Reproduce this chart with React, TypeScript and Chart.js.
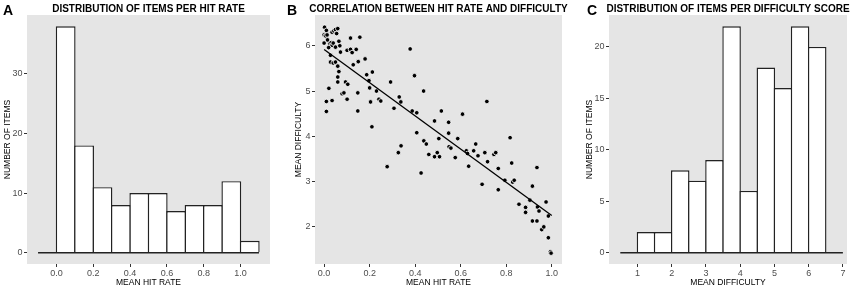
import React, { useEffect, useRef } from "react";
import { Chart, registerables } from "chart.js";

Chart.register(...registerables);

const FONT = '"Liberation Sans", Arial, Helvetica, sans-serif';

// ---------- Panel A: distribution of items per hit rate ----------
const hitRateBinStarts = [-0.1, 0.0, 0.1, 0.2, 0.3, 0.4, 0.5, 0.6, 0.7, 0.8, 0.9, 1.0];
const hitRateCounts = [0, 38, 18, 11, 8, 10, 10, 7, 8, 8, 12, 2];
const hitRateBinWidth = 0.1;
const hitRateTicks = [0, 0.2, 0.4, 0.6, 0.8, 1.0];
const hitRateCountTicks = [0, 10, 20, 30];

// ---------- Panel C: distribution of items per difficulty score ----------
const difficultyBinStarts = [0.5, 1.0, 1.5, 2.0, 2.5, 3.0, 3.5, 4.0, 4.5, 5.0, 5.5, 6.0, 6.5];
const difficultyCounts = [0, 2, 2, 8, 7, 9, 22, 6, 18, 16, 22, 20, 0];
const difficultyBinWidth = 0.5;
const difficultyTicks = [1, 2, 3, 4, 5, 6, 7];
const difficultyCountTicks = [0, 5, 10, 15, 20];

// ---------- Panel B: correlation between hit rate and difficulty ----------
const itemHitRate = [
  0.002, 0.010, 0.000, 0.006, 0.013, 0.035, 0.043, 0.050, 0.060, 0.000,
  0.025, 0.031, 0.035, 0.040, 0.065, 0.069, 0.116, 0.157, 0.072, 0.101,
  0.116, 0.123, 0.141, 0.028, 0.028, 0.040, 0.050, 0.060, 0.128, 0.150,
  0.180, 0.065, 0.060, 0.060, 0.094, 0.104, 0.187, 0.212, 0.197, 0.021,
  0.079, 0.087, 0.148, 0.010, 0.035, 0.101, 0.204, 0.241, 0.249, 0.292,
  0.307, 0.330, 0.337, 0.378, 0.148, 0.010, 0.200, 0.230, 0.210, 0.277,
  0.326, 0.338, 0.020, 0.050, 0.015, 0.055,
  0.397, 0.437, 0.387, 0.407, 0.515, 0.715, 0.608, 0.485, 0.547, 0.407,
  0.438, 0.449, 0.547, 0.504, 0.587, 0.817, 0.549, 0.557, 0.460, 0.485,
  0.497, 0.507, 0.576, 0.625, 0.630, 0.657, 0.666, 0.676, 0.706, 0.718,
  0.746, 0.754, 0.635, 0.426, 0.765, 0.824, 0.694, 0.765, 0.794, 0.828,
  0.835, 0.856, 0.885, 0.885, 0.904, 0.915, 0.935, 0.915, 0.935, 0.937,
  0.944, 0.956, 0.965, 0.975, 0.985, 0.985, 0.994, 0.997,
];
const itemDifficulty = [
  6.41, 6.34, 6.24, 6.22, 6.24, 6.30, 6.33, 6.36, 6.38, 6.06,
  6.05, 6.07, 6.01, 6.06, 6.10, 6.00, 6.17, 6.19, 5.86, 5.90,
  5.92, 5.85, 5.92, 5.79, 5.64, 5.62, 5.64, 5.55, 5.58, 5.65,
  5.71, 5.43, 5.31, 5.20, 5.20, 5.15, 5.36, 5.42, 5.23, 5.06,
  4.94, 4.96, 4.96, 4.77, 4.79, 4.82, 4.76, 4.82, 4.78, 5.20,
  4.62, 4.87, 4.76, 5.93, 4.56, 4.55, 5.07, 5.00, 4.21, 3.33,
  3.64, 3.79, 5.96, 5.97, 6.13, 6.27,
  5.34, 5.00, 4.56, 4.52, 4.56, 4.77, 4.49, 4.34, 4.31, 4.08,
  3.90, 3.83, 4.07, 3.95, 3.95, 3.97, 3.77, 3.74, 3.60, 3.55,
  3.64, 3.55, 3.53, 3.68, 3.62, 3.68, 3.83, 3.57, 3.64, 3.44,
  3.60, 3.64, 3.34, 3.19, 3.29, 3.41, 2.94, 2.82, 3.03, 2.99,
  3.03, 2.50, 2.43, 2.32, 2.59, 2.90, 3.31, 2.13, 2.13, 2.44,
  2.35, 1.94, 2.00, 2.55, 2.24, 1.76, 1.45, 1.42,
];
const fitIntercept = 5.92;
const fitSlope = -3.67;
const fitRange = [0, 1];
const scatterXTicks = [0, 0.2, 0.4, 0.6, 0.8, 1.0];
const scatterYTicks = [2, 3, 4, 5, 6];

const OUTLINE = "#222222";
const OUTLINE_W = 1.4;

const panelPlugin = {
  id: "panelDecor",
  beforeDraw(chart: any, _a: any, opts: any) {
    const { ctx, chartArea } = chart;
    ctx.save();
    ctx.fillStyle = "#E5E5E5";
    ctx.fillRect(chartArea.left, chartArea.top, chartArea.right - chartArea.left, chartArea.bottom - chartArea.top);
    ctx.restore();
  },
  afterDraw(chart: any, _a: any, opts: any) {
    const { ctx, chartArea } = chart;
    ctx.save();
    ctx.fillStyle = "#000";
    ctx.textBaseline = "alphabetic";
    ctx.textAlign = "left";
    ctx.font = `bold 14px ${FONT}`;
    ctx.fillText(opts.letter, opts.letterX, 15);
    ctx.font = `bold 10px ${FONT}`;
    ctx.textAlign = "center";
    ctx.fillText(opts.title, (chartArea.left + chartArea.right) / 2, 12);
    ctx.restore();
  },
};

type Spec = {
  left: number;
  width: number;
  padLeft: number;
  padRight: number;
  yWidth: number;
  letter: string;
  letterX: number;
  title: string;
  xTitle: string;
  yTitle: string;
  xMin: number;
  xMax: number;
  yMin: number;
  yMax: number;
  xTicks: number[];
  yTicks: number[];
  xDec: number;
  datasets: any[];
};

function axis(min: number, max: number, ticks: number[], dec: number, title: string, horizontal: boolean, size: number) {
  return {
    type: "linear",
    min,
    max,
    offset: false,
    afterBuildTicks: (s: any) => {
      s.ticks = ticks.map((v) => ({ value: v }));
    },
    afterFit: (s: any) => {
      if (horizontal) s.height = size;
      else s.width = size;
    },
    ticks: {
      font: { family: FONT, size: 9 },
      color: "#4D4D4D",
      padding: horizontal ? 1.5 : 1.5,
      autoSkip: false,
      maxRotation: 0,
      callback: (v: any) => Number(v).toFixed(dec),
    },
    grid: {
      offset: false,
      drawOnChartArea: false,
      drawTicks: true,
      tickLength: 3,
      color: "#333333",
      lineWidth: 1,
    },
    border: { display: false },
    title: {
      display: true,
      text: title,
      color: "#000",
      font: { family: FONT, size: 8.5 },
      padding: horizontal ? { top: 0, bottom: 0 } : { top: 2.4, bottom: 0 },
    },
  };
}

function histDatasets(starts: number[], counts: number[], w: number, pxPerBin: number) {
  return [
    {
      type: "bar",
      data: starts.map((s, i) => ({ x: s + w / 2, y: counts[i] })),
      backgroundColor: "#FFFFFF",
      borderColor: OUTLINE,
      borderWidth: OUTLINE_W,
      borderSkipped: "start",
      barPercentage: 1 + OUTLINE_W / pxPerBin,
      categoryPercentage: 1,
      order: 2,
    },
    {
      type: "line",
      data: [
        { x: starts[0], y: 0 },
        { x: starts[starts.length - 1] + w, y: 0 },
      ],
      borderColor: OUTLINE,
      borderWidth: OUTLINE_W,
      pointRadius: 0,
      order: 1,
    },
  ];
}

const specs: Spec[] = [
  {
    left: 0,
    width: 285,
    padLeft: 0,
    padRight: 15,
    yWidth: 27,
    letter: "A",
    letterX: 3,
    title: "DISTRIBUTION OF ITEMS PER HIT RATE",
    xTitle: "MEAN HIT RATE",
    yTitle: "NUMBER OF ITEMS",
    xMin: -0.16,
    xMax: 1.16,
    yMin: -1.9,
    yMax: 39.9,
    xTicks: hitRateTicks,
    yTicks: hitRateCountTicks,
    xDec: 1,
    datasets: histDatasets(hitRateBinStarts, hitRateCounts, hitRateBinWidth, 18.4),
  },
  {
    left: 285,
    width: 285,
    padLeft: 6,
    padRight: 8,
    yWidth: 24,
    letter: "B",
    letterX: 2,
    title: "CORRELATION BETWEEN HIT RATE AND DIFFICULTY",
    xTitle: "MEAN HIT RATE",
    yTitle: "MEAN DIFFICULTY",
    xMin: -0.04,
    xMax: 1.045,
    yMin: 1.18,
    yMax: 6.68,
    xTicks: scatterXTicks,
    yTicks: scatterYTicks,
    xDec: 1,
    datasets: [
      {
        type: "line",
        data: fitRange.map((x) => ({ x, y: fitIntercept + fitSlope * x })),
        borderColor: "#000",
        borderWidth: 1.3,
        pointRadius: 0,
        order: 1,
      },
      {
        type: "scatter",
        data: itemHitRate.map((x, i) => ({ x, y: itemDifficulty[i] })),
        backgroundColor: "#000",
        borderColor: "#FFFFFF",
        borderWidth: 0.8,
        pointRadius: 2.3,
        order: 2,
      },
    ],
  },
  {
    left: 570,
    width: 286,
    padLeft: 12,
    padRight: 9,
    yWidth: 27,
    letter: "C",
    letterX: 17,
    title: "DISTRIBUTION OF ITEMS PER DIFFICULTY SCORE",
    xTitle: "MEAN DIFFICULTY",
    yTitle: "NUMBER OF ITEMS",
    xMin: 0.17,
    xMax: 7.12,
    yMin: -1.1,
    yMax: 23.1,
    xTicks: difficultyTicks,
    yTicks: difficultyCountTicks,
    xDec: 0,
    datasets: histDatasets(difficultyBinStarts, difficultyCounts, difficultyBinWidth, 17),
  },
];

function Panel({ spec }: { spec: Spec }) {
  const ref = useRef<HTMLCanvasElement>(null);
  useEffect(() => {
    const chart = new Chart(ref.current as HTMLCanvasElement, {
      type: "bar",
      data: { datasets: spec.datasets as any },
      options: {
        animation: false,
        responsive: false,
        devicePixelRatio: 1,
        layout: { padding: { top: 15, bottom: 0, left: spec.padLeft, right: spec.padRight } },
        plugins: {
          legend: { display: false },
          tooltip: { enabled: false },
          title: { display: false },
          panelDecor: { letter: spec.letter, letterX: spec.letterX, title: spec.title },
        } as any,
        scales: {
          x: axis(spec.xMin, spec.xMax, spec.xTicks, spec.xDec, spec.xTitle, true, 24) as any,
          y: axis(spec.yMin, spec.yMax, spec.yTicks, 0, spec.yTitle, false, spec.yWidth) as any,
        },
      },
      plugins: [panelPlugin as any],
    });
    return () => chart.destroy();
  }, [spec]);
  return (
    <canvas
      ref={ref}
      width={spec.width}
      height={288}
      style={{ position: "absolute", left: spec.left, top: 0, width: spec.width, height: 288 }}
    />
  );
}

export default function App() {
  useEffect(() => {
    document.body.style.margin = "0";
  }, []);
  return (
    <div style={{ position: "relative", width: 856, height: 288, background: "#fff", overflow: "hidden" }}>
      {specs.map((s) => (
        <Panel key={s.letter} spec={s} />
      ))}
    </div>
  );
}
